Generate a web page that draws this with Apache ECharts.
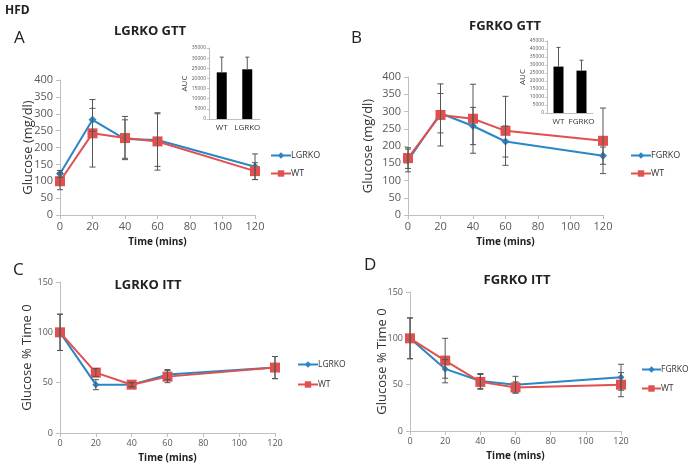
<!DOCTYPE html>
<html><head><meta charset="utf-8">
<script src="https://cdn.jsdelivr.net/npm/echarts@6/dist/echarts.min.js"></script>
<style>html,body{margin:0;padding:0;background:#fff}#c{width:688px;height:466px}</style>
</head><body><div id="c"></div>
<script>
const times = [0, 20, 40, 60, 120];

const aLGRKO = [122, 282, 225, 222, 143];
const aLGRKOErr = [10, 34, 57, 78, 38];
const aWT = [100, 242, 228, 218, 130];
const aWTErr = [25, 100, 64, 85, 25];

const bFGRKO = [158, 295, 258, 213, 172];
const bFGRKOErr = [33, 57, 54, 45, 25];
const bWT = [165, 290, 279, 244, 215];
const bWTErr = [30, 90, 100, 100, 95];

const cLGRKO = [100, 48, 48, 58, 65];
const cLGRKOErr = [18, 5, 2, 5, 11];
const cWT = [100, 60, 48, 56, 65];
const cWTErr = [18, 4, 2, 6, 11];

const dFGRKO = [100, 67, 54, 50, 58];
const dFGRKOErr = [22, 10, 8, 9, 14];
const dWT = [100, 76, 53, 47, 50];
const dWTErr = [22, 24, 8, 6, 13];

const aucACats = ['WT', 'LGRKO'];
const aucAVals = [23000, 24500];
const aucAErr = [7500, 6000];
const aucBCats = ['WT', 'FGRKO'];
const aucBVals = [29000, 26500];
const aucBErr = [12000, 6500];

const BLUE = '#2a86c4', RED = '#e0504f', AX = '#bfbfbf', LBL = '#595959', ERR = '#555';
const FONT = '"Open Sans", "Noto Sans", sans-serif';

function pairs(v) { return times.map((t, i) => [t, v[i]]); }
function errData(v, e) { return times.map((t, i) => [t, v[i] - e[i], v[i] + e[i]]); }
function errRender(capW, upOnly) {
  return function (params, api) {
    const x = api.value(0), lo = api.value(1), hi = api.value(2);
    const p1 = api.coord([x, hi]);
    const p2 = api.coord([x, upOnly ? api.value(3) : lo]);
    const ch = [
      { type: 'line', shape: { x1: p1[0], y1: p1[1], x2: p2[0], y2: p2[1] }, style: { stroke: ERR, lineWidth: 1 } },
      { type: 'line', shape: { x1: p1[0] - capW, y1: p1[1], x2: p1[0] + capW, y2: p1[1] }, style: { stroke: ERR, lineWidth: 1 } }
    ];
    if (!upOnly) ch.push({ type: 'line', shape: { x1: p2[0] - capW, y1: p2[1], x2: p2[0] + capW, y2: p2[1] }, style: { stroke: ERR, lineWidth: 1 } });
    return { type: 'group', children: ch };
  };
}

const grids = [
  { left: 60, top: 80, width: 195, height: 135 },
  { left: 408, top: 77, width: 195, height: 138 },
  { left: 60, top: 282, width: 215, height: 151 },
  { left: 410, top: 292, width: 211, height: 139 },
  { left: 209, top: 48, width: 51, height: 71 },
  { left: 547, top: 41, width: 46, height: 72 }
];

function xAx(gi, fs, gap) {
  return {
    type: 'value', gridIndex: gi, min: 0, max: 120, interval: 20,
    name: 'Time (mins)', nameLocation: 'middle', nameGap: gap, nameMoveOverlap: false,
    nameTextStyle: { fontFamily: FONT, fontWeight: 'bold', fontSize: 10, color: '#222' },
    axisLine: { lineStyle: { color: AX } }, axisTick: { show: true, length: 4, lineStyle: { color: AX } },
    axisLabel: { fontFamily: FONT, fontSize: fs, color: LBL, margin: 6 }, splitLine: { show: false }
  };
}
function yAx(gi, max, interval, name, fs, gap, margin) {
  return {
    type: 'value', gridIndex: gi, min: 0, max: max, interval: interval,
    name: name, nameLocation: 'middle', nameGap: gap, nameRotate: 90, nameMoveOverlap: false,
    nameTextStyle: { fontFamily: FONT, fontSize: 13, color: '#333' },
    axisLine: { show: true, lineStyle: { color: AX } }, axisTick: { show: true, length: 4, lineStyle: { color: AX } },
    axisLabel: { fontFamily: FONT, fontSize: fs, color: LBL, margin: margin }, splitLine: { show: false }
  };
}
function aucY(gi, max) {
  return { type: 'value', gridIndex: gi, min: 0, max: max, interval: 5000, name: 'AUC', nameLocation: 'middle', nameGap: 20, nameRotate: 90,
    nameMoveOverlap: false,
    nameTextStyle: { fontFamily: FONT, fontSize: 8, color: '#333' },
    axisLine: { show: true, lineStyle: { color: AX } }, axisTick: { show: true, length: 2, lineStyle: { color: AX } },
    axisLabel: { fontFamily: FONT, fontSize: 5, color: LBL, margin: 3, formatter: v => String(v) }, splitLine: { show: false } };
}
function aucX(gi, cats) {
  return { type: 'category', gridIndex: gi, data: cats, axisLine: { lineStyle: { color: AX } }, axisTick: { show: false },
    axisLabel: { fontFamily: FONT, fontSize: 8, color: '#333', margin: 5, interval: 0 } };
}

const xAxes = [xAx(0, 11, 22), xAx(1, 11, 22), xAx(2, 9, 20), xAx(3, 9, 20), aucX(4, aucACats), aucX(5, aucBCats)];
const yAxes = [
  yAx(0, 400, 50, 'Glucose (mg/dl)', 11, 25, 7),
  yAx(1, 400, 50, 'Glucose (mg/dl)', 11, 33, 7),
  yAx(2, 150, 50, 'Glucose % Time 0', 9, 26, 7),
  yAx(3, 150, 50, 'Glucose % Time 0', 9, 21, 7),
  aucY(4, 35000), aucY(5, 45000)
];

function lineS(name, gi, v, color, sym, size) {
  return { type: 'line', name: name, xAxisIndex: gi, yAxisIndex: gi, data: pairs(v), symbol: sym, symbolSize: size,
    lineStyle: { color: color, width: 2 }, itemStyle: { color: color }, z: 3, animation: false };
}
function errS(gi, v, e) {
  return { type: 'custom', xAxisIndex: gi, yAxisIndex: gi, data: errData(v, e), renderItem: errRender(3, false),
    encode: { x: 0, y: [1, 2] }, z: 4, animation: false, silent: true };
}
function aucErr(gi, vals, errs) {
  return { type: 'custom', xAxisIndex: gi, yAxisIndex: gi, data: vals.map((v, i) => [i, v, v + errs[i], v]),
    renderItem: errRender(2, true), encode: { x: 0, y: [1, 2] }, z: 4, animation: false, silent: true };
}

const series = [
  errS(0, aLGRKO, aLGRKOErr), errS(0, aWT, aWTErr),
  lineS('LGRKO', 0, aLGRKO, BLUE, 'diamond', 8), lineS('WT', 0, aWT, RED, 'rect', 10),
  errS(1, bFGRKO, bFGRKOErr), errS(1, bWT, bWTErr),
  lineS('FGRKO', 1, bFGRKO, BLUE, 'diamond', 8), lineS('WT', 1, bWT, RED, 'rect', 10),
  errS(2, cLGRKO, cLGRKOErr), errS(2, cWT, cWTErr),
  lineS('LGRKO', 2, cLGRKO, BLUE, 'diamond', 7), lineS('WT', 2, cWT, RED, 'rect', 10),
  errS(3, dFGRKO, dFGRKOErr), errS(3, dWT, dWTErr),
  lineS('FGRKO', 3, dFGRKO, BLUE, 'diamond', 7), lineS('WT', 3, dWT, RED, 'rect', 10),
  { type: 'bar', xAxisIndex: 4, yAxisIndex: 4, data: aucAVals, barWidth: 10, itemStyle: { color: '#000' }, animation: false },
  aucErr(4, aucAVals, aucAErr),
  { type: 'bar', xAxisIndex: 5, yAxisIndex: 5, data: aucBVals, barWidth: 10, itemStyle: { color: '#000' }, animation: false },
  aucErr(5, aucBVals, aucBErr)
];

function leg(names, left, top, gap, fs, iw) {
  return { orient: 'vertical', left: left, top: top, data: names, itemWidth: iw, itemHeight: 8, itemGap: gap,
    textStyle: { fontFamily: FONT, fontSize: fs, color: '#333', padding: [0, 0, 0, -5] }, selectedMode: false, padding: 0 };
}

const titles = [
  { text: 'HFD', left: 0, top: 0, textStyle: { fontFamily: FONT, fontWeight: 'bold', fontSize: 12, color: '#222' } },
  { text: 'A', left: 9, top: 25, textStyle: { fontFamily: FONT, fontWeight: 'normal', fontSize: 17, color: '#222' } },
  { text: 'B', left: 346, top: 25, textStyle: { fontFamily: FONT, fontWeight: 'normal', fontSize: 17, color: '#222' } },
  { text: 'C', left: 8, top: 257, textStyle: { fontFamily: FONT, fontWeight: 'normal', fontSize: 17, color: '#222' } },
  { text: 'D', left: 359, top: 252, textStyle: { fontFamily: FONT, fontWeight: 'normal', fontSize: 17, color: '#222' } },
  { text: 'LGRKO GTT', left: 145, top: 20, textAlign: 'center', textStyle: { fontFamily: FONT, fontWeight: 'bold', fontSize: 13, color: '#222' } },
  { text: 'FGRKO GTT', left: 500, top: 15, textAlign: 'center', textStyle: { fontFamily: FONT, fontWeight: 'bold', fontSize: 13, color: '#222' } },
  { text: 'LGRKO ITT', left: 143, top: 274, textAlign: 'center', textStyle: { fontFamily: FONT, fontWeight: 'bold', fontSize: 13, color: '#222' } },
  { text: 'FGRKO ITT', left: 512, top: 269, textAlign: 'center', textStyle: { fontFamily: FONT, fontWeight: 'bold', fontSize: 13, color: '#222' } }
];

const chart = echarts.init(document.getElementById('c'), null, { renderer: 'canvas' });
chart.setOption({
  backgroundColor: '#fff',
  animation: false,
  title: titles,
  grid: grids,
  xAxis: xAxes,
  yAxis: yAxes,
  legend: [leg(['LGRKO', 'WT'], 270, 151, 9, 9, 20), leg(['FGRKO', 'WT'], 630, 151, 9, 9, 20),
    leg(['LGRKO', 'WT'], 297, 360, 11, 8.5, 20), leg(['FGRKO', 'WT'], 641, 365, 10, 8.5, 19)],
  series: series
});
</script></body></html>
